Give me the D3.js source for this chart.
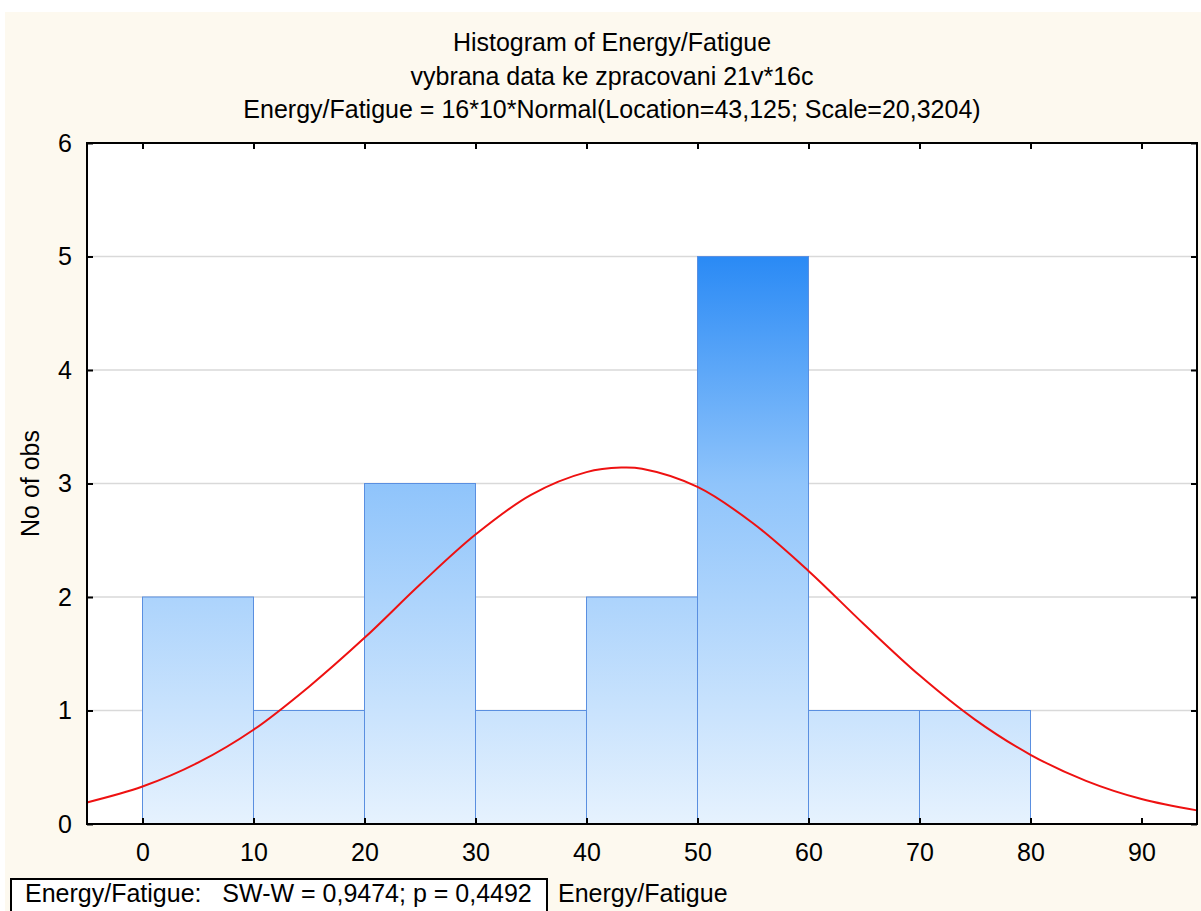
<!DOCTYPE html>
<html><head><meta charset="utf-8">
<script src="https://cdn.jsdelivr.net/npm/d3@7"></script>
<style>html,body{margin:0;padding:0;background:#fff;}svg{display:block;font-family:"Liberation Sans",Arial,sans-serif;}</style>
</head><body>
<svg id="c" width="1201" height="911"></svg>
<script>
const binStarts = [0, 10, 20, 30, 40, 50, 60, 70];
const binWidth = 10;
const counts = [2, 1, 3, 1, 2, 5, 1, 1];
const curveX = [-5, 0, 5, 10, 15, 20, 25, 30, 35, 40, 43.125, 45, 50, 55, 60, 65, 70, 75, 80, 85, 90, 95];
const curveY = [0.19, 0.33, 0.54, 0.83, 1.21, 1.64, 2.11, 2.55, 2.90, 3.10, 3.14, 3.13, 2.97, 2.65, 2.23, 1.76, 1.31, 0.92, 0.61, 0.38, 0.22, 0.12];
const xTicks = [0, 10, 20, 30, 40, 50, 60, 70, 80, 90];
const yTicks = [0, 1, 2, 3, 4, 5, 6];
const titles = ["Histogram of Energy/Fatigue", "vybrana data ke zpracovani 21v*16c", "Energy/Fatigue = 16*10*Normal(Location=43,125; Scale=20,3204)"];
const yLabel = "No of obs";
const statText = "Energy/Fatigue:   SW-W = 0,9474; p = 0,4492";
const xLabel = "Energy/Fatigue";

const FS = 25;
const svg = d3.select("#c");
svg.append("rect").attr("x", 5).attr("y", 12).attr("width", 1196).attr("height", 899).attr("fill", "#fdf9ef");

const L = 87, R = 1197, T = 143, B = 824;
const x = d3.scaleLinear().domain([-5, 95]).range([L, R]);
const y = d3.scaleLinear().domain([0, 6]).range([B, T]);

svg.append("rect").attr("x", L).attr("y", T).attr("width", R - L).attr("height", B - T).attr("fill", "#fff");

// gridlines
svg.append("g").selectAll("line").data(yTicks.filter(d => d > 0 && d < 6)).join("line")
  .attr("x1", L).attr("x2", R).attr("y1", d => y(d)).attr("y2", d => y(d))
  .attr("stroke", "#d9d9d9").attr("stroke-width", 1.5);

const defs = svg.append("defs");
const grad = defs.append("linearGradient").attr("id", "bg").attr("gradientUnits", "userSpaceOnUse")
  .attr("x1", 0).attr("x2", 0).attr("y1", y(0)).attr("y2", y(5));
grad.append("stop").attr("offset", "0%").attr("stop-color", "#e6f2fe");
grad.append("stop").attr("offset", "60%").attr("stop-color", "#8fc4fb");
grad.append("stop").attr("offset", "100%").attr("stop-color", "#2a8af5");

svg.append("g").selectAll("rect").data(binStarts).join("rect")
  .attr("x", d => x(d)).attr("width", d => x(d + binWidth) - x(d))
  .attr("y", (d, i) => y(counts[i])).attr("height", (d, i) => y(0) - y(counts[i]))
  .attr("fill", "url(#bg)").attr("stroke", "#5a8fe0").attr("stroke-width", 1);

// curve
const line = d3.line().x((d, i) => x(curveX[i])).y(d => y(d)).curve(d3.curveCatmullRom);
svg.append("path").datum(curveY).attr("d", line).attr("fill", "none").attr("stroke", "#ee1111").attr("stroke-width", 2);

// frame
svg.append("rect").attr("x", L).attr("y", T).attr("width", R - L).attr("height", B - T)
  .attr("fill", "none").attr("stroke", "#000").attr("stroke-width", 2);

// axes
const xb = svg.append("g").attr("transform", `translate(0,${B})`)
  .call(d3.axisBottom(x).tickValues(xTicks).tickSize(-6).tickPadding(19).tickFormat(d3.format("d")));
const xt = svg.append("g").attr("transform", `translate(0,${T})`)
  .call(d3.axisTop(x).tickValues(xTicks).tickSize(-6).tickFormat(""));
const yl = svg.append("g").attr("transform", `translate(${L},0)`)
  .call(d3.axisLeft(y).tickValues(yTicks).tickSize(-6).tickPadding(15).tickFormat(d3.format("d")));
const yr = svg.append("g").attr("transform", `translate(${R},0)`)
  .call(d3.axisRight(y).tickValues(yTicks).tickSize(-6).tickFormat(""));
[xb, xt, yl, yr].forEach(g => {
  g.attr("font-size", FS).attr("font-family", "Liberation Sans, Arial, sans-serif");
  g.select(".domain").remove();
  g.selectAll(".tick line").attr("stroke", "#000").attr("stroke-width", 2);
  g.selectAll("text").attr("fill", "#000");
});

// titles
svg.append("g").selectAll("text").data(titles).join("text")
  .attr("x", 612).attr("y", (d, i) => 51 + i * 33.5).attr("text-anchor", "middle")
  .attr("font-size", FS).attr("fill", "#000").text(d => d);

svg.append("text").attr("transform", `translate(39,${(T + B) / 2}) rotate(-90)`)
  .attr("text-anchor", "middle").attr("font-size", FS).attr("fill", "#000").text(yLabel);

svg.append("rect").attr("x", 11).attr("y", 879).attr("width", 536).attr("height", 40)
  .attr("fill", "#fff").attr("stroke", "#000").attr("stroke-width", 2);
svg.append("text").attr("x", 25).attr("y", 902).attr("font-size", FS).attr("fill", "#000")
  .attr("xml:space", "preserve").style("white-space", "pre").text(statText);
svg.append("text").attr("x", 558).attr("y", 902).attr("font-size", FS).attr("fill", "#000").text(xLabel);
</script>
</body></html>
